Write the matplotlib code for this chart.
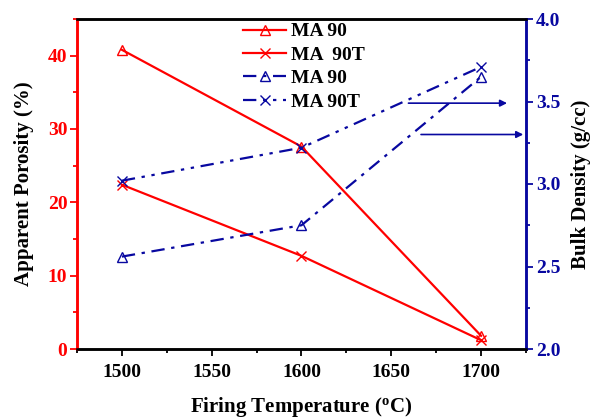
import matplotlib.pyplot as plt
from matplotlib.ticker import MultipleLocator

plt.rcParams['font.family'] = ['Liberation Serif', 'DejaVu Serif']
plt.rcParams['font.weight'] = 'bold'

temps = [1500, 1600, 1700]
porosidad_ma90 = [40.8, 27.6, 1.8]
porosidad_ma90t = [22.4, 12.7, 1.2]
densidad_ma90 = [2.56, 2.75, 3.65]
densidad_ma90t = [3.02, 3.22, 3.71]

rojo = '#ff0000'
azul = '#0808a0'

fig = plt.figure(figsize=(5.9, 4.18), dpi=100)
ax = fig.add_axes([77 / 590, 1 - 349 / 418, 449 / 590, 330 / 418])
ax2 = ax.twinx()

# Porosidad (eje izquierdo)
l1, = ax.plot(temps, porosidad_ma90, color=rojo, lw=1.6, marker='^', ms=7,
              mfc='none', mec=rojo, mew=1.0, label='MA 90')
l2, = ax.plot(temps, porosidad_ma90t, color=rojo, lw=1.6, marker='x', ms=7,
              mec=rojo, mew=1.0, label='MA  90T')

# Densidad (eje derecho)
l3, = ax2.plot(temps, densidad_ma90, color=azul, lw=1.6, marker='^', ms=7,
               mfc='none', mec=azul, mew=1.0, dashes=(6, 3, 1.5, 3), label='MA 90')
l4, = ax2.plot(temps, densidad_ma90t, color=azul, lw=1.6, marker='x', ms=7,
               mec=azul, mew=1.0, dashes=(6, 3, 1.5, 3, 1.5, 3), label='MA 90T')

ax.set_xlim(1475, 1725)
ax.set_ylim(0, 45)
ax2.set_ylim(2.0, 4.0)

ax.xaxis.set_major_locator(MultipleLocator(50))
ax.xaxis.set_minor_locator(MultipleLocator(25))
ax.yaxis.set_major_locator(MultipleLocator(10))
ax.yaxis.set_minor_locator(MultipleLocator(5))
ax2.yaxis.set_major_locator(MultipleLocator(0.5))
ax2.yaxis.set_minor_locator(MultipleLocator(0.25))

ax.tick_params(axis='x', which='major', direction='out', length=5, width=1.3, labelsize=14, pad=6)
ax.tick_params(axis='x', which='minor', direction='out', length=3, width=1.3)
ax.tick_params(axis='y', which='major', direction='out', length=5, width=1.3,
               colors=rojo, labelsize=14, pad=2)
ax.tick_params(axis='y', which='minor', direction='out', length=3, width=1.3, colors=rojo)
ax2.tick_params(axis='y', which='major', direction='out', length=5, width=1.3,
                colors=azul, labelsize=14, pad=2)
ax2.tick_params(axis='y', which='minor', direction='out', length=3, width=1.3, colors=azul)
ax2.yaxis.set_major_formatter(plt.FormatStrFormatter('%.1f'))

for a in (ax, ax2):
    for s in ['top', 'bottom']:
        a.spines[s].set_linewidth(1.8)
    a.spines['left'].set_color(rojo)
    a.spines['left'].set_linewidth(1.8)
    a.spines['right'].set_color(azul)
    a.spines['right'].set_linewidth(1.8)

ax.set_xlabel('Firing Temperature ($\\mathregular{^o}$C)', fontsize=15, fontweight='bold', labelpad=10)
ax.set_ylabel('Apparent Porosity (%)', fontsize=15, fontweight='bold', labelpad=10)
ax2.set_ylabel('Bulk Density (g/cc)', fontsize=15, fontweight='bold', labelpad=8)

# Flechas indicando el eje de densidad
ax2.annotate('', xy=(1716, 3.49), xytext=(1658, 3.49),
             arrowprops=dict(arrowstyle='-|>', color=azul, lw=1.2, mutation_scale=10))
ax2.annotate('', xy=(1725, 3.30), xytext=(1665, 3.30),
             arrowprops=dict(arrowstyle='-|>', color=azul, lw=1.2, mutation_scale=10))

ax2.legend(handles=[l1, l2, l3, l4], loc='upper left', bbox_to_anchor=(0.34, 1.03),
           frameon=False, fontsize=14, handlelength=2.2, handletextpad=0.25,
           labelspacing=0.3, borderpad=0.2)

fig.savefig('out.png', dpi=100)
